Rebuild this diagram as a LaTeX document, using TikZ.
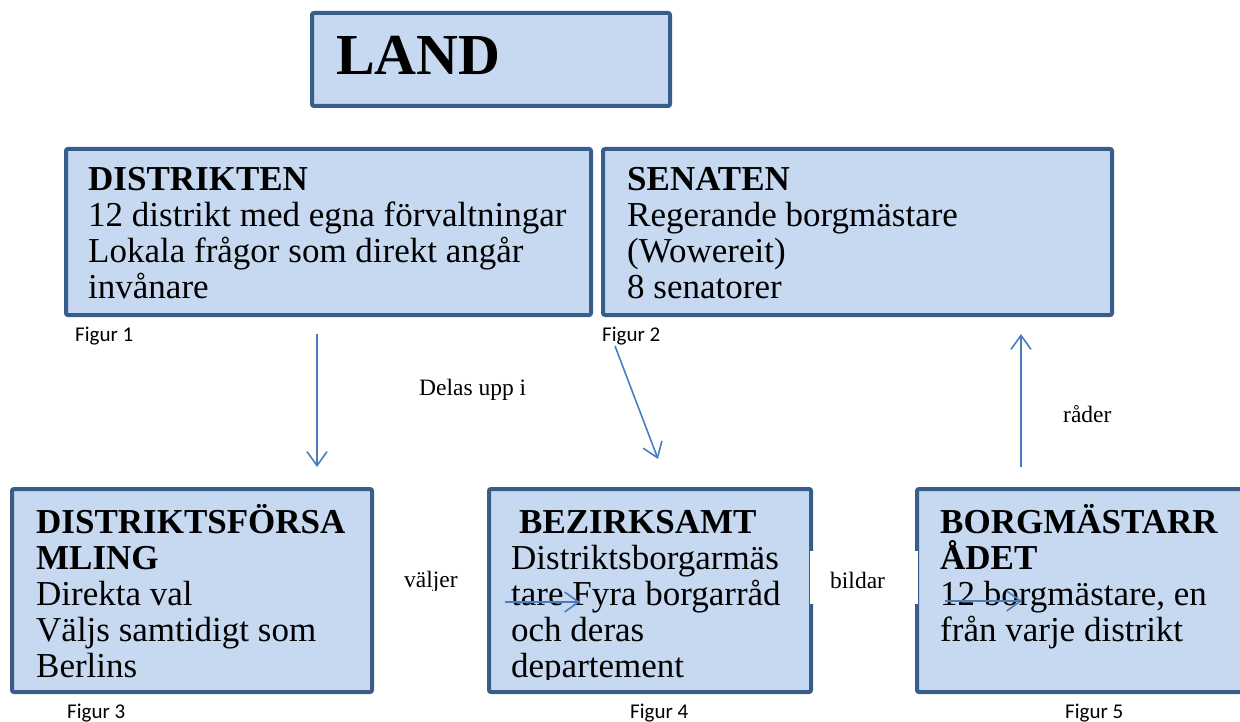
\documentclass[tikz,border=0pt]{standalone}
\usepackage{fontspec}
\setmainfont{Liberation Serif}
\newfontfamily\figurfont{Carlito}
\usetikzlibrary{arrows.meta}

\definecolor{ramblaa}{RGB}{56,93,138}
\definecolor{fyllblaa}{RGB}{198,217,241}
\definecolor{pilblaa}{RGB}{74,126,187}

\newcommand{\rader}[1]{\parbox[t]{25cm}{\raggedright #1}}

\begin{document}
\begin{tikzpicture}[x=1pt, y=-1pt,
    ruta/.style={draw=ramblaa, fill=fyllblaa, line width=4pt, rounded corners=2pt,
                 anchor=north west, inner sep=0pt},
    rutatext/.style={anchor=base west, inner sep=0pt, font=\fontsize{35}{36}\selectfont},
    figur/.style={anchor=base west, inner sep=0pt, font=\figurfont\fontsize{21}{24}\selectfont},
    etikett/.style={anchor=base west, inner sep=0pt, font=\fontsize{23.5}{26}\selectfont},
    pil/.style={draw=pilblaa, line width=1.6pt, -{Straight Barb[length=14pt, width=20pt]}}]

    \useasboundingbox (0,0) rectangle (1240,722);

    % rutorna
    \node[ruta, minimum width=358, minimum height=93]  (land)     at (310,11)  {};
    \node[ruta, minimum width=525, minimum height=166] (distrikt) at (64,147)  {};
    \node[ruta, minimum width=509, minimum height=166] (senat)    at (601,147) {};
    \node[ruta, minimum width=360, minimum height=203] (forsaml)  at (10,487)  {};
    \node[ruta, minimum width=322, minimum height=203] (bezirk)   at (487,487) {};
    \node[ruta, minimum width=380, minimum height=203] (borgm)    at (915,487) {};

    % texten i rutorna
    \node[rutatext, font=\fontsize{58}{60}\selectfont\bfseries] (land-txt) at (336,75) {LAND};
    \node[rutatext] (distrikt-txt) at (88,191) {\rader{\textbf{DISTRIKTEN}\\
        12 distrikt med egna förvaltningar\\ Lokala frågor som direkt angår\\ invånare}};
    \node[rutatext] (senat-txt) at (627,191) {\rader{\textbf{SENATEN}\\
        Regerande borgmästare\\ (Wowereit)\\ 8 senatorer}};
    \node[rutatext] (forsaml-txt) at (36,533) {\rader{\textbf{DISTRIKTSFÖRSA}\\ \textbf{MLING}\\
        Direkta val\\ Väljs samtidigt som\\ Berlins}};
    \begin{scope}
        \clip (489,489) rectangle (811,679); % textrutan klipper sista raden
        \node[rutatext] (bezirk-txt) at (511,533) {\rader{\hspace*{8pt}\textbf{BEZIRKSAMT}\\
            Distriktsborgarmäs\\ tare Fyra borgarråd\\ och deras\\ departement}};
    \end{scope}
    \node[rutatext] (borgm-txt) at (940,533) {\rader{\textbf{BORGMÄSTARR}\\ \textbf{ÅDET}\\
        12 borgmästare, en\\ från varje distrikt}};

    % figurtexter
    \node[figur] (fig1) at (75,341)   {Figur 1};
    \node[figur] (fig2) at (602,341)  {Figur 2};
    \node[figur] (fig3) at (67,718)   {Figur 3};
    \node[figur] (fig4) at (630,718)  {Figur 4};
    \node[figur] (fig5) at (1065,718) {Figur 5};

    % etiketter
    \node[etikett] (delas) at (419,395) {Delas upp i};
    \begin{scope}
        \clip (380,560) rectangle (480,590);
        \node[etikett] (valjer) at (404,587) {väljer};
    \end{scope}
    \node[fill=white, minimum width=108, minimum height=53, inner sep=0pt] (bildar-bg) at (864,577) {};
    \node[etikett] (bildar) at (830,588) {bildar};
    \node[etikett] (rader) at (1063,422) {råder};

    % pilarnas ändpunkter
    \coordinate (a1) at (317,334);
    \coordinate (a2) at (317,467);
    \coordinate (b1) at (615,346);
    \coordinate (b2) at (658,459);
    \coordinate (c1) at (1021,467);
    \coordinate (c2) at (1021,334);
    \coordinate (d1) at (505,602);
    \coordinate (d2) at (580,602);
    \coordinate (e1) at (945,601);
    \coordinate (e2) at (1022,601);

    \draw[pil] (a1) -- (a2);
    \draw[pil] (b1) -- (b2);
    \draw[pil] (c1) -- (c2);
    \draw[pil] (d1) -- (d2);
    \draw[pil] (e1) -- (e2);
\end{tikzpicture}
\end{document}
